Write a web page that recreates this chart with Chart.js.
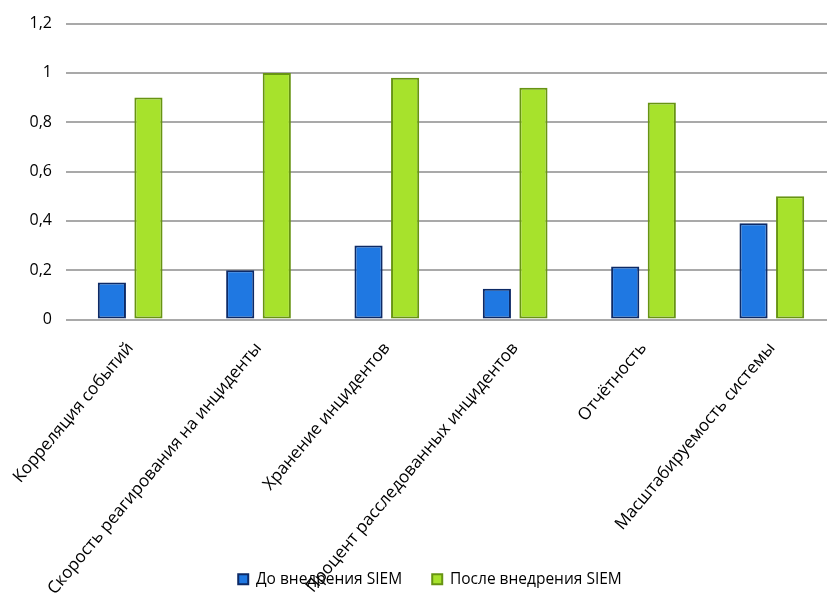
<!DOCTYPE html>
<html>
<head>
<meta charset="utf-8">
<script src="https://cdn.jsdelivr.net/npm/chart.js@4"></script>
<style>
  html, body { margin: 0; padding: 0; background: #fff; overflow: hidden; }
  #wrap { width: 836px; height: 597px; }
</style>
</head>
<body>
<div id="wrap"><canvas id="siemChart"></canvas></div>
<script>
// categories and series
const categories = [
    'Корреляция событий',
    'Скорость реагирования на инциденты',
    'Хранение инцидентов',
    'Процент расследованных инцидентов',
    'Отчётность',
    'Масштабируемость системы'
];
const beforeSiem = [0.15, 0.2, 0.3, 0.125, 0.215, 0.39];
const afterSiem = [0.9, 1.0, 0.98, 0.94, 0.88, 0.5];
const seriesNames = ['До внедрения SIEM', 'После внедрения SIEM'];
const yTicks = [0, 0.2, 0.4, 0.6, 0.8, 1, 1.2];

const ctx = document.getElementById('siemChart').getContext('2d');
const chart = new Chart(ctx, {
    type: 'bar',
    data: {
        labels: categories,
        datasets: [{
            label: seriesNames[0],
            data: beforeSiem,
            backgroundColor: '#1f78e2',
            borderColor: '#0d2a66',
            borderWidth: 2,
            borderSkipped: false,
            categoryPercentage: 0.57,
            barPercentage: 0.77
        }, {
            label: seriesNames[1],
            data: afterSiem,
            backgroundColor: '#a7e22c',
            borderColor: '#679412',
            borderWidth: 2,
            borderSkipped: false,
            categoryPercentage: 0.57,
            barPercentage: 0.77
        }]
    },
    options: {
        responsive: true,
        maintainAspectRatio: false,
        animation: false,
        layout: {
            padding: { top: 14, right: 0, bottom: 0, left: 24 }
        },
        scales: {
            x: {
                grid: { display: false },
                border: { display: false },
                ticks: {
                    color: '#000',
                    minRotation: 50,
                    maxRotation: 50,
                    autoSkip: false,
                    padding: 11,
                    font: { family: 'Open Sans', size: 17 }
                },
                afterFit: function(scale) {
                    scale.height = 242;
                    // long labels run down over the legend, as in the original
                    scale._computeLabelArea = function() { return undefined; };
                }
            },
            y: {
                min: 0,
                max: 1.2,
                afterBuildTicks: function(scale) {
                    scale.ticks = yTicks.map(v => ({ value: v }));
                },
                grid: {
                    color: '#a9a9a9',
                    lineWidth: 2,
                    drawTicks: false
                },
                border: { display: false },
                ticks: {
                    color: '#000',
                    padding: 14,
                    font: { family: 'Open Sans', size: 16 },
                    callback: function(value) {
                        return String(Math.round(value * 10) / 10).replace('.', ',');
                    }
                },
                afterFit: function(scale) {
                    scale.width = 42;
                }
            }
        },
        plugins: {
            legend: {
                display: true,
                position: 'bottom',
                labels: {
                    color: '#000',
                    boxWidth: 10,
                    boxHeight: 10,
                    padding: 10,
                    font: { family: 'Open Sans', size: 15.5 },
                    generateLabels: function(chart) {
                        const items = Chart.defaults.plugins.legend.labels.generateLabels(chart);
                        items[0].text += '     ';
                        return items;
                    }
                }
            },
            tooltip: { enabled: false }
        }
    }
});
</script>
</body>
</html>
